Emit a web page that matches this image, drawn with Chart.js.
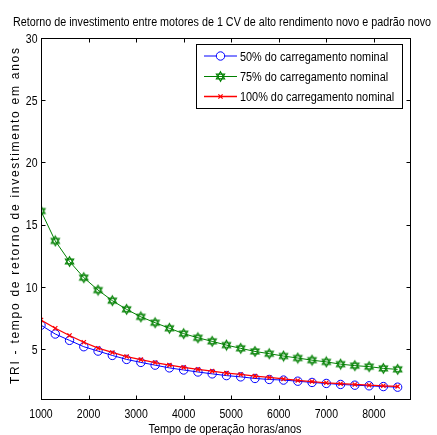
<!DOCTYPE html>
<html>
<head>
<meta charset="utf-8">
<script src="https://cdn.jsdelivr.net/npm/chart.js@4/dist/chart.umd.min.js"></script>
<style>
  html, body { margin: 0; padding: 0; background: #fff; }
  #wrap { width: 437px; height: 435px; }
</style>
</head>
<body>
<div id="wrap"><canvas id="c" width="437" height="435"></canvas></div>
<script>
// Operating hours per year (x values of every series)
const hours = [1000, 1300, 1600, 1900, 2200, 2500, 2800, 3100, 3400, 3700, 4000, 4300, 4600,
               4900, 5200, 5500, 5800, 6100, 6400, 6700, 7000, 7300, 7600, 7900, 8200, 8500];

// Payback time (years) for each load level
const load50 = [6.93, 6.22, 5.71, 5.20, 4.85, 4.50, 4.18, 3.94, 3.72, 3.50, 3.33, 3.17, 3.02,
                2.88, 2.78, 2.65, 2.57, 2.52, 2.43, 2.33, 2.25, 2.17, 2.11, 2.06, 2.00, 1.95];
const load75 = [16.10, 13.70, 12.05, 10.75, 9.75, 8.90, 8.20, 7.60, 7.13, 6.68, 6.25, 5.92, 5.63,
                5.33, 5.07, 4.82, 4.64, 4.45, 4.29, 4.12, 3.98, 3.80, 3.68, 3.60, 3.46, 3.38];
const load100 = [7.35, 6.68, 6.10, 5.56, 5.08, 4.74, 4.41, 4.16, 3.93, 3.72, 3.54, 3.38, 3.24,
                 3.08, 2.97, 2.84, 2.73, 2.61, 2.49, 2.40, 2.30, 2.23, 2.17, 2.11, 2.06, 2.01];

const seriesLabels = ['50% do carregamento nominal', '75% do carregamento nominal', '100% do carregamento nominal'];
const xTicks = [1000, 2000, 3000, 4000, 5000, 6000, 7000, 8000];
const yTicks = [5, 10, 15, 20, 25, 30];

const titleText = 'Retorno de investimento entre motores de 1 CV de alto rendimento novo e padrão novo';
const xTitle = 'Tempo de operação horas/anos';
const yTitle = 'TRI - tempo de retorno de investimento em anos';

const FONT = '"Liberation Sans", Arial, sans-serif';

// Six-pointed star marker
function hexagram(color) {
  const s = 13, c = document.createElement('canvas');
  c.width = s; c.height = s;
  const g = c.getContext('2d');
  g.strokeStyle = color; g.lineWidth = 1.1;
  const r = 4.8, cx = s / 2, cy = s / 2;
  for (let t = 0; t < 2; t++) {
    g.beginPath();
    for (let k = 0; k < 3; k++) {
      const a = -Math.PI / 2 + t * Math.PI + k * 2 * Math.PI / 3;
      const px = cx + r * Math.cos(a), py = cy + r * Math.sin(a);
      k === 0 ? g.moveTo(px, py) : g.lineTo(px, py);
    }
    g.closePath(); g.stroke();
  }
  return c;
}
const starImg = hexagram('#008000');

const toXY = arr => arr.map((v, i) => ({ x: hours[i], y: v }));

const datasets = [
  { label: seriesLabels[0], data: toXY(load50), borderColor: '#0000ff', borderWidth: 1,
    pointStyle: 'circle', pointRadius: 4.2, pointBorderWidth: 1, pointBorderColor: '#0000ff',
    pointBackgroundColor: 'rgba(0,0,0,0)', order: 2 },
  { label: seriesLabels[1], data: toXY(load75), borderColor: '#008000', borderWidth: 1,
    pointStyle: starImg, pointRadius: 5, order: 1 },
  { label: seriesLabels[2], data: toXY(load100), borderColor: '#ff0000', borderWidth: 1.3,
    pointStyle: 'crossRot', pointRadius: 3, pointBorderWidth: 1.2, pointBorderColor: '#ff0000',
    order: 0 }
];

// Condensed text: horizontal squeeze sx, or fitted to a width when fitW is given
function text(ctx, str, x, y, align, size, sx, fitW) {
  ctx.save();
  ctx.font = size + 'px ' + FONT;
  if (fitW) sx = fitW / ctx.measureText(str).width;
  ctx.translate(x, y);
  ctx.scale(sx, 1);
  ctx.textAlign = align;
  ctx.textBaseline = 'alphabetic';
  ctx.fillStyle = '#000';
  ctx.fillText(str, 0, 0);
  ctx.restore();
}

// Frame, inward ticks, tick labels, titles and legend
const decor = {
  id: 'decor',
  afterDatasetsDraw(chart) {
    const ctx = chart.ctx, a = chart.chartArea;
    const xs = chart.scales.x, ys = chart.scales.y;
    const L = Math.round(a.left) + 0.5, R = Math.round(a.right) + 0.5;
    const T = Math.round(a.top) + 0.5, B = Math.round(a.bottom) + 0.5;
    ctx.save();
    ctx.strokeStyle = '#000'; ctx.lineWidth = 1;
    ctx.strokeRect(L, T, R - L, B - T);
    ctx.beginPath();
    xs.ticks.forEach(t => {
      const p = Math.round(xs.getPixelForValue(t.value)) + 0.5;
      ctx.moveTo(p, B); ctx.lineTo(p, B - 4);
      ctx.moveTo(p, T); ctx.lineTo(p, T + 4);
    });
    ys.ticks.forEach(t => {
      const p = Math.round(ys.getPixelForValue(t.value)) + 0.5;
      ctx.moveTo(L, p); ctx.lineTo(L + 4, p);
      ctx.moveTo(R, p); ctx.lineTo(R - 4, p);
    });
    ctx.stroke();
    ctx.restore();

    // tick labels
    xs.ticks.forEach(t => text(ctx, String(t.value), xs.getPixelForValue(t.value), 417.5, 'center', 12.5, 0.84));
    ys.ticks.forEach(t => text(ctx, String(t.value), 37.5, ys.getPixelForValue(t.value) + 4.6, 'right', 12.5, 0.84));

    // legend box
    ctx.save();
    const bx = 196.5, by = 44.5, bw = 206, bh = 64;
    ctx.fillStyle = '#fff';
    ctx.fillRect(bx, by, bw, bh);
    ctx.strokeStyle = '#000'; ctx.lineWidth = 1;
    ctx.strokeRect(bx, by, bw, bh);
    const rows = [56, 76.5, 96.5];
    chart.data.datasets.forEach((ds, i) => {
      const y = rows[i];
      ctx.strokeStyle = ds.borderColor; ctx.lineWidth = ds.borderWidth;
      ctx.beginPath(); ctx.moveTo(204, y); ctx.lineTo(237, y); ctx.stroke();
      Chart.helpers.drawPoint(ctx, {
        pointStyle: ds.pointStyle, radius: ds.pointRadius, rotation: 0,
        borderWidth: ds.pointBorderWidth || 1
      }, 220.5, y);
      text(ctx, ds.label, 240, y + 4.5, 'left', 12.5, 0.87);
    });
    ctx.restore();

    // titles
    text(ctx, titleText, 222, 26, 'center', 12, 1, 418);
    text(ctx, xTitle, 225, 433, 'center', 12, 1, 153);

    // vertical title, letter-spaced
    ctx.save();
    ctx.fillStyle = '#000';
    ctx.font = '12px ' + FONT;
    ctx.textAlign = 'left'; ctx.textBaseline = 'alphabetic';
    const chars = [...yTitle];
    const widths = chars.map(c => ctx.measureText(c).width);
    const total = 336;
    const gap = (total - widths.reduce((s, w) => s + w, 0)) / (chars.length - 1);
    ctx.translate(19, 216 + total / 2);
    ctx.rotate(-Math.PI / 2);
    let pos = 0;
    chars.forEach((c, i) => { ctx.fillText(c, pos, 0); pos += widths[i] + gap; });
    ctx.restore();
  }
};

new Chart(document.getElementById('c'), {
  type: 'line',
  data: { datasets },
  options: {
    responsive: false,
    devicePixelRatio: 1,
    animation: false,
    layout: { padding: { left: 0, right: 27, top: 38, bottom: 0 } },
    plugins: { legend: { display: false }, title: { display: false }, tooltip: { enabled: false } },
    elements: { line: { tension: 0 } },
    scales: {
      x: {
        type: 'linear', min: 1000, max: 8760,
        afterBuildTicks: s => { s.ticks = xTicks.map(v => ({ value: v })); },
        afterFit: s => { s.height = 36; },
        grid: { display: false, drawTicks: false },
        border: { display: false },
        ticks: { display: false }
      },
      y: {
        type: 'linear', min: 1, max: 30,
        afterBuildTicks: s => { s.ticks = yTicks.map(v => ({ value: v })); },
        afterFit: s => { s.width = 41; },
        grid: { display: false, drawTicks: false },
        border: { display: false },
        ticks: { display: false }
      }
    }
  },
  plugins: [decor]
});
</script>
</body>
</html>
